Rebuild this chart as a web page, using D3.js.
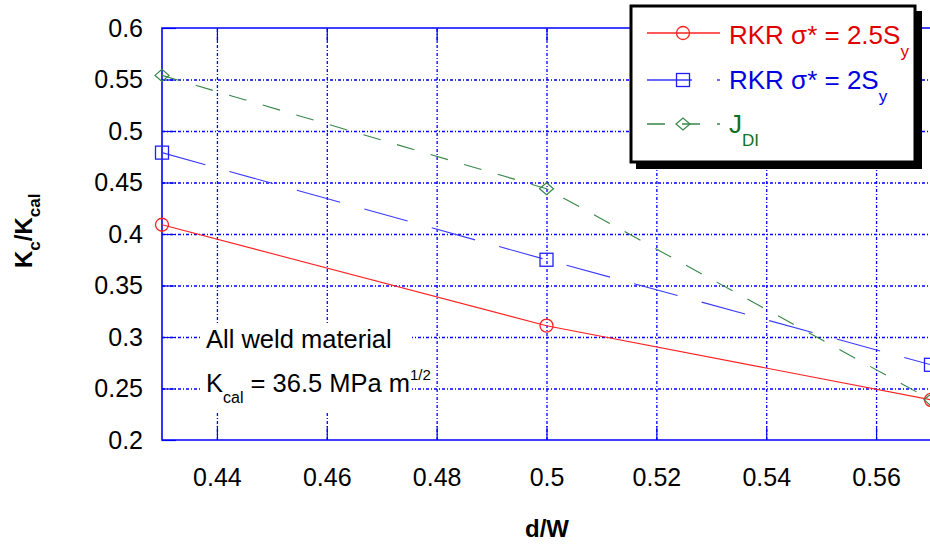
<!DOCTYPE html>
<html>
<head>
<meta charset="utf-8">
<script src="https://cdn.jsdelivr.net/npm/d3@7"></script>
<style>
  body { margin: 0; background: #fff; }
  svg { display: block; font-family: "Liberation Sans", Arial, sans-serif; }
</style>
</head>
<body>
<div class="chart"></div>
<script>
var width = 930, height = 544;
var plot = { left: 162, right: 931, top: 28, bottom: 440 };

// data
var dW = [0.43, 0.5, 0.57];
var rkr25 = [0.409, 0.311, 0.239];
var rkr2 = [0.479, 0.375, 0.273];
var jdi = [0.554, 0.444, 0.239];

var xTicks = [0.44, 0.46, 0.48, 0.5, 0.52, 0.54, 0.56];
var yTicks = [0.2, 0.25, 0.3, 0.35, 0.4, 0.45, 0.5, 0.55, 0.6];

var series = [
  { name: "RKR σ* = 2.5S", sub: "y", values: rkr25, color: "#ff2020", text: "#e00000", dash: null, marker: "circle" },
  { name: "RKR σ* = 2S", sub: "y", values: rkr2, color: "#3a3aff", text: "#0000e0", dash: "45,25", marker: "square" },
  { name: "J", sub: "DI", values: jdi, color: "#37874a", text: "#107020", dash: "18,17", marker: "diamond" }
];

var svg = d3.select(".chart").append("svg")
  .attr("width", width).attr("height", height);

var x = d3.scaleLinear().domain([0.43, 0.57]).range([plot.left, plot.right]);
var y = d3.scaleLinear().domain([0.2, 0.6]).range([plot.bottom, plot.top]);

// grid lines (dash-dot blue)
svg.append("g").attr("class", "grid")
  .attr("transform", "translate(0," + plot.bottom + ")")
  .call(d3.axisBottom(x).tickValues(xTicks).tickSize(-(plot.bottom - plot.top)).tickFormat(""))
  .call(function(g){ g.select(".domain").remove(); });
svg.append("g").attr("class", "grid")
  .attr("transform", "translate(" + plot.left + ",0)")
  .call(d3.axisLeft(y).tickValues(yTicks.slice(1, -1)).tickSize(-(plot.right - plot.left)).tickFormat(""))
  .call(function(g){ g.select(".domain").remove(); });
svg.selectAll(".grid line")
  .attr("stroke", "#0000ff").attr("stroke-width", 1.3)
  .attr("stroke-dasharray", "3,2,1,2");

// inward solid ticks
svg.append("g").attr("class", "ticks")
  .attr("transform", "translate(0," + plot.bottom + ")")
  .call(d3.axisBottom(x).tickValues(xTicks).tickSize(-14).tickFormat(""));
svg.append("g").attr("class", "ticks")
  .attr("transform", "translate(0," + plot.top + ")")
  .call(d3.axisTop(x).tickValues(xTicks).tickSize(-14).tickFormat(""));
svg.append("g").attr("class", "ticks")
  .attr("transform", "translate(" + plot.left + ",0)")
  .call(d3.axisLeft(y).tickValues(yTicks).tickSize(-14).tickFormat(""));
svg.selectAll(".ticks .domain").remove();
svg.selectAll(".ticks line").attr("stroke", "#0000ff").attr("stroke-width", 1.2);

// frame
svg.append("path")
  .attr("d", "M" + plot.right + "," + plot.top + "H" + plot.left + "V" + plot.bottom + "H" + plot.right)
  .attr("fill", "none").attr("stroke", "#0000ff").attr("stroke-width", 1.6);

// tick labels
var xAxis = svg.append("g")
  .attr("transform", "translate(0," + plot.bottom + ")")
  .call(d3.axisBottom(x).tickValues(xTicks).tickSize(0).tickPadding(28).tickFormat(function(d){ return String(d); }));
var yAxis = svg.append("g")
  .attr("transform", "translate(" + plot.left + ",0)")
  .call(d3.axisLeft(y).tickValues(yTicks).tickSize(0).tickPadding(19).tickFormat(function(d){ return String(d); }));
[xAxis, yAxis].forEach(function(a){
  a.select(".domain").remove();
  a.selectAll("text").attr("font-size", 25).attr("fill", "#000")
    .attr("font-family", "Liberation Sans, Arial, sans-serif");
});

// axis titles
svg.append("text")
  .attr("x", 547).attr("y", 537)
  .attr("text-anchor", "middle")
  .attr("font-size", 24).attr("font-weight", "bold")
  .text("d/W");

var yt = svg.append("text")
  .attr("transform", "translate(32,268) rotate(-90)")
  .attr("font-size", 24).attr("font-weight", "bold");
yt.append("tspan").text("K");
yt.append("tspan").attr("font-size", 17).attr("dy", 8).text("c");
yt.append("tspan").attr("dy", -8).text("/K");
yt.append("tspan").attr("font-size", 17).attr("dy", 8).text("cal");

// annotation box (white, hides the grid)
svg.append("rect").attr("x", 200).attr("y", 323).attr("width", 212).attr("height", 90).attr("fill", "#fff");

// series
var line = d3.line()
  .x(function(d){ return x(d[0]); })
  .y(function(d){ return y(d[1]); });

function drawMarker(g, type, cx, cy, color) {
  if (type === "circle") {
    g.append("circle").attr("cx", cx).attr("cy", cy).attr("r", 6.5)
      .attr("fill", "none").attr("stroke", color).attr("stroke-width", 1.3);
  } else if (type === "square") {
    g.append("rect").attr("x", cx - 6.5).attr("y", cy - 6.5).attr("width", 13).attr("height", 13)
      .attr("fill", "none").attr("stroke", color).attr("stroke-width", 1.3);
  } else {
    g.append("path").attr("d", "M" + (cx - 7) + "," + cy + "L" + cx + "," + (cy - 6) + "L" + (cx + 7) + "," + cy + "L" + cx + "," + (cy + 6) + "Z")
      .attr("fill", "none").attr("stroke", color).attr("stroke-width", 1.2);
  }
}
function markerColor(s) {
  return s.marker === "diamond" ? "#37874a" : (s.marker === "square" ? "#2020ff" : "#ff2020");
}

var marks = svg.append("g");
series.forEach(function(s){
  var pts = dW.map(function(d, i){ return [d, s.values[i]]; });
  marks.append("path")
    .attr("d", line(pts))
    .attr("fill", "none")
    .attr("stroke", s.color)
    .attr("stroke-width", 1.1)
    .attr("stroke-dasharray", s.dash);
  pts.forEach(function(p){
    drawMarker(marks, s.marker, x(p[0]), y(p[1]), markerColor(s));
  });
});

// annotation
svg.append("text").attr("x", 206).attr("y", 348)
  .attr("font-size", 25.5).text("All weld material");
var ann = svg.append("text").attr("x", 206).attr("y", 392).attr("font-size", 25.5);
ann.append("tspan").text("K");
ann.append("tspan").attr("font-size", 16).attr("dy", 11).text("cal");
ann.append("tspan").attr("dy", -11).text(" = 36.5 MPa m");
ann.append("tspan").attr("font-size", 15).attr("dy", -12).text("1/2");

// legend
var lg = svg.append("g");
lg.append("rect").attr("x", 636).attr("y", 11).attr("width", 286).attr("height", 158).attr("fill", "#000");
lg.append("rect").attr("x", 631).attr("y", 6).attr("width", 284).attr("height", 156)
  .attr("fill", "#fff").attr("stroke", "#000").attr("stroke-width", 3);

var rowY = [33, 80, 124];
var textY = [44, 89, 133];
series.forEach(function(s, i){
  lg.append("line")
    .attr("x1", 647).attr("x2", 720).attr("y1", rowY[i]).attr("y2", rowY[i])
    .attr("stroke", s.color).attr("stroke-width", 1.3)
    .attr("stroke-dasharray", s.dash);
  drawMarker(lg, s.marker, 683, rowY[i], markerColor(s));
  var t = lg.append("text").attr("x", 729).attr("y", textY[i])
    .attr("font-size", 26).attr("fill", s.text);
  t.append("tspan").text(s.name);
  t.append("tspan").attr("font-size", 17).attr("dy", 13).text(s.sub);
});
</script>
</body>
</html>
